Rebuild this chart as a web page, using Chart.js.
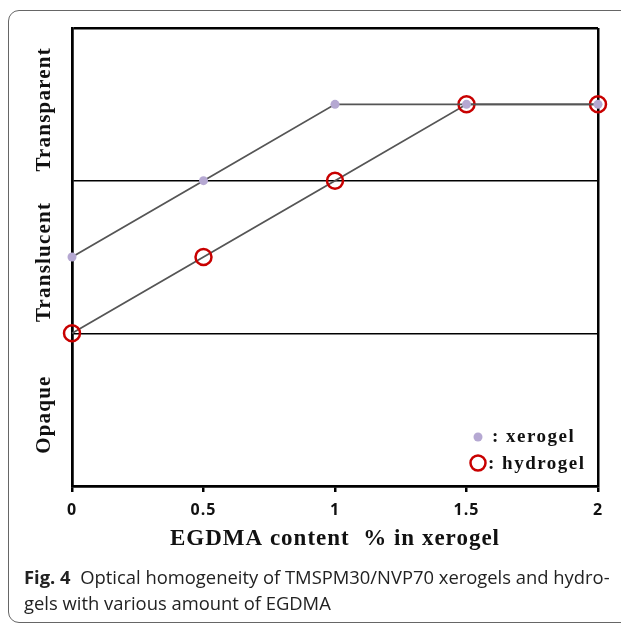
<!DOCTYPE html>
<html>
<head>
<meta charset="utf-8">
<script src="https://cdn.jsdelivr.net/npm/chart.js@4.4.1/dist/chart.umd.min.js"></script>
<style>
    html, body { margin: 0; padding: 0; background: #fff; }
    #wrap { position: relative; width: 621px; height: 623px; overflow: hidden; }
    #frame {
        position: absolute; left: 8px; top: 10px; width: 660px; height: 611px;
        border: 1px solid #666; border-radius: 11px;
    }
    #chart { position: absolute; left: 0; top: 0; }
    #caption {
        position: absolute; left: 24px; top: 564px;
        font-family: "Open Sans", sans-serif; font-size: 18.4px; line-height: 26px;
        color: #222; white-space: nowrap;
    }
</style>
</head>
<body>
<div id="wrap">
    <div id="frame"></div>
    <canvas id="chart" width="621" height="623"></canvas>
    <div id="caption"><b>Fig. 4</b>&nbsp; Optical homogeneity of TMSPM30/NVP70 xerogels and hydro-<br>gels with various amount of EGDMA</div>
</div>
<script>
// EGDMA content (%) on x, optical state level on y (1 = translucent/opaque border, 2 = transparent/translucent border)
const egdma = [0, 0.5, 1, 1.5, 2];
const xerogel = [1.5, 2, 2.5, 2.5, 2.5];
const hydrogel = [1, 1.5, 2, 2.5, 2.5];
const xTicks = [0, 0.5, 1, 1.5, 2];
const bandLabels = ['Opaque', 'Translucent', 'Transparent'];
const bandCenters = [0.5, 1.5, 2.5];

const serif = '"Liberation Serif", "Times New Roman", serif';

function toPoints(ys) {
    return egdma.map((x, i) => ({ x: x, y: ys[i] }));
}

// etiquetas das faixas e legenda desenhadas a mao
const extras = {
    id: 'extras',
    beforeDraw(chart) {
        chart.ctx.letterSpacing = '1px';
    },
    afterDraw(chart) {
        const ctx = chart.ctx;
        const y = chart.scales.y;
        ctx.save();
        ctx.fillStyle = '#111';
        ctx.font = 'bold 21px ' + serif;
        ctx.letterSpacing = '1.2px';
        ctx.textAlign = 'center';
        ctx.textBaseline = 'middle';
        bandLabels.forEach((txt, i) => {
            ctx.save();
            ctx.translate(45, y.getPixelForValue(bandCenters[i]) + 5);
            ctx.rotate(-Math.PI / 2);
            ctx.fillText(txt, 0, 0);
            ctx.restore();
        });

        // legenda
        ctx.font = 'bold 19px ' + serif;
        ctx.letterSpacing = '1.5px';
        ctx.textAlign = 'left';
        ctx.beginPath();
        ctx.arc(478, 437, 4.5, 0, Math.PI * 2);
        ctx.fillStyle = '#b5a8d2';
        ctx.fill();
        ctx.beginPath();
        ctx.arc(478, 463, 7.5, 0, Math.PI * 2);
        ctx.lineWidth = 2.5;
        ctx.strokeStyle = '#c80000';
        ctx.stroke();
        ctx.fillStyle = '#111';
        ctx.fillText(': xerogel', 492, 437);
        ctx.fillText(': hydrogel', 488, 464);
        ctx.restore();
        ctx.letterSpacing = '0px';
    }
};

const ctx = document.getElementById('chart').getContext('2d');
const chart = new Chart(ctx, {
    type: 'line',
    data: {
        datasets: [
            {
                label: 'xerogel',
                data: toPoints(xerogel),
                borderColor: '#555',
                borderWidth: 1.8,
                pointRadius: 4.5,
                pointBorderWidth: 0,
                pointBackgroundColor: '#b5a8d2',
                clip: false
            },
            {
                label: 'hydrogel',
                data: toPoints(hydrogel),
                borderColor: '#555',
                borderWidth: 1.8,
                pointRadius: 8,
                pointBorderWidth: 2.5,
                pointBorderColor: '#c80000',
                pointBackgroundColor: 'rgba(0,0,0,0)',
                clip: false
            }
        ]
    },
    options: {
        responsive: false,
        animation: false,
        layout: { padding: { left: 72, right: 23, top: 28, bottom: 70 } },
        plugins: {
            legend: { display: false },
            tooltip: { enabled: false }
        },
        scales: {
            x: {
                type: 'linear',
                min: 0,
                max: 2,
                afterBuildTicks: scale => { scale.ticks = xTicks.map(v => ({ value: v })); },
                afterFit: scale => { scale.height = 67; },
                border: { display: true, color: '#000', width: 2.5 },
                grid: {
                    color: c => (c.tick && (c.tick.value === 0 || c.tick.value === 2)) ? '#000' : 'rgba(0,0,0,0)',
                    lineWidth: 2.5,
                    tickColor: '#000',
                    tickLength: 6,
                    tickWidth: 2.5
                },
                ticks: {
                    color: '#111',
                    padding: 9,
                    maxRotation: 0,
                    font: { family: '"Open Sans", sans-serif', size: 16, weight: 'bold' },
                    callback: v => String(v)
                },
                title: {
                    display: true,
                    text: 'EGDMA content  % in xerogel',
                    color: '#111',
                    padding: { top: 0, bottom: 0 },
                    font: { family: serif, size: 23, weight: 'bold' }
                }
            },
            y: {
                type: 'linear',
                min: 0,
                max: 3,
                ticks: { display: false, stepSize: 1 },
                afterFit: scale => { scale.width = 0; },
                border: { display: true, color: '#000', width: 2.5 },
                grid: {
                    drawTicks: false,
                    color: '#000',
                    lineWidth: c => (c.tick && (c.tick.value === 0 || c.tick.value === 3)) ? 2.5 : 1.5
                }
            }
        }
    },
    plugins: [extras]
});
</script>
</body>
</html>
